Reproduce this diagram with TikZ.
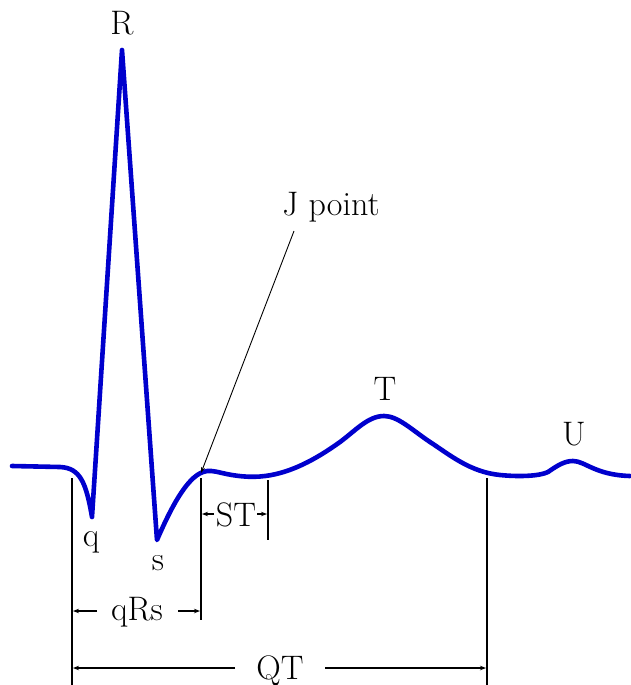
\documentclass[tikz,border=0pt]{standalone}
\usetikzlibrary{arrows.meta}
\begin{document}
\begin{tikzpicture}[x=1pt,y=-1pt,
  ecg/.style={line width=4.6pt,color={rgb,255:red,0;green,0;blue,205},line join=round,line cap=round},
  guide/.style={line width=1.1pt,black},
  arr/.style={line width=1.1pt,black,-{Stealth[length=6pt,width=4.5pt]}},
  lbl/.style={font=\rmfamily\fontsize{34}{40}\selectfont,inner sep=0pt,anchor=base}]
\useasboundingbox (0,0) rectangle (630,685);
% ECG trace
\draw[ecg] (12,466) -- (60,467) .. controls (80,468) and (86,482) .. (92,517)
  -- (122,50) -- (157,540)
  .. controls (170,510) and (186,478) .. (203,472)
  .. controls (208,470) and (214,471) .. (222,473)
  .. controls (235,476) and (250,478) .. (265,476)
  .. controls (290,473) and (315,460) .. (340,442)
  .. controls (355,431) and (368,416) .. (384,416)
  .. controls (398,416) and (412,430) .. (430,442)
  .. controls (450,455) and (470,472) .. (500,475)
  .. controls (520,477) and (540,476) .. (548,472)
  .. controls (558,465) and (565,461) .. (573,461)
  .. controls (585,461) and (595,475) .. (630,476);
% labels
\node[lbl] (R) at (122,35) {R};
\node[lbl] (q) at (91,546) {q};
\node[lbl] (s) at (158,570) {s};
\node[lbl] (T) at (385,400) {T};
\node[lbl] (U) at (574,445) {U};
\node[lbl] (J) at (331,215) {J point};
\node[lbl] (ST) at (236,526) {ST};
\node[lbl] (qRs) at (137,620) {qRs};
\node[lbl] (QT) at (280,679) {QT};
% J point arrow
\coordinate (Jtail) at (294,231);
\coordinate (Jpt) at (201,473);
\draw[line width=0.9pt,-{Stealth[length=6pt,width=4pt]}] (Jtail) -- (Jpt);
% guide lines
\coordinate (g1t) at (72,478); \coordinate (g1b) at (72,685);
\coordinate (g2t) at (201,478); \coordinate (g2b) at (201,620);
\coordinate (g3t) at (268,480); \coordinate (g3b) at (268,540);
\coordinate (g4t) at (487,478); \coordinate (g4b) at (487,685);
\draw[guide] (g1t) -- (g1b);
\draw[guide] (g2t) -- (g2b);
\draw[guide] (g3t) -- (g3b);
\draw[guide] (g4t) -- (g4b);
% dimension arrows
\coordinate (stL0) at (214,514); \coordinate (stL) at (202,514);
\coordinate (stR0) at (257,514); \coordinate (stR) at (267,514);
\draw[arr] (stL0) -- (stL);
\draw[arr] (stR0) -- (stR);
\coordinate (qrsL0) at (97,611); \coordinate (qrsL) at (73,611);
\coordinate (qrsR0) at (178,611); \coordinate (qrsR) at (200,611);
\draw[arr] (qrsL0) -- (qrsL);
\draw[arr] (qrsR0) -- (qrsR);
\coordinate (qtL0) at (235,668); \coordinate (qtL) at (73,668);
\coordinate (qtR0) at (325,668); \coordinate (qtR) at (486,668);
\draw[arr] (qtL0) -- (qtL);
\draw[arr] (qtR0) -- (qtR);
\end{tikzpicture}
\end{document}
